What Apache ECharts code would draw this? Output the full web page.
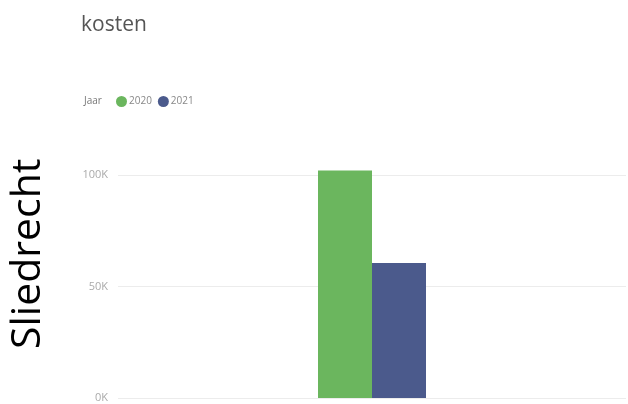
<!DOCTYPE html>
<html>
<head>
<meta charset="utf-8">
<script src="https://cdn.jsdelivr.net/npm/echarts@6/dist/echarts.min.js"></script>
<style>html,body{margin:0;padding:0;background:#fff}#c{width:628px;height:404px}</style>
</head>
<body>
<div id="c"></div>
<script>
const categories = ['Sliedrecht'];
const seriesNames = ['2020', '2021'];
const values2020 = [102000];
const values2021 = [60500];
const yTicks = [0, 50000, 100000];

const chart = echarts.init(document.getElementById('c'), null, {renderer: 'canvas'});
chart.setOption({
  animation: false,
  backgroundColor: '#fff',
  color: ['#6bb65e', '#4b5a8c'],
  title: [
    {text: 'kosten', left: 76, top: 10, textStyle: {fontFamily: 'Open Sans', fontSize: 21, fontWeight: 'normal', color: '#555'}},
    {text: 'Jaar', left: 79, top: 91, textStyle: {fontFamily: 'Open Sans', fontSize: 10, fontWeight: 'normal', color: '#777'}}
  ],
  legend: {
    left: 111, top: 91, itemWidth: 11, itemHeight: 11, itemGap: 6,
    icon: 'circle',
    textStyle: {fontFamily: 'Open Sans', fontSize: 10, color: '#888', padding: [0, 0, 0, -3]},
    data: seriesNames
  },
  graphic: [{
    type: 'text', x: 28, y: 349, rotation: Math.PI / 2,
    style: {text: categories[0], font: '41px "Open Sans"', fill: '#000', textAlign: 'left', textVerticalAlign: 'middle'}
  }],
  grid: {left: 118, right: 2, top: 152.7, bottom: 6, containLabel: false},
  xAxis: {
    type: 'category', data: categories,
    axisLine: {show: false}, axisTick: {show: false}, axisLabel: {show: false}
  },
  yAxis: {
    type: 'value', min: 0, max: 110000, interval: 50000,
    axisLine: {show: false}, axisTick: {show: false},
    axisLabel: {
      showMaxLabel: false, margin: 10,
      fontFamily: 'Open Sans', fontSize: 11, color: '#aaa',
      formatter: v => yTicks.indexOf(v) >= 0 ? (v / 1000) + 'K' : ''
    },
    splitLine: {showMaxLine: false, lineStyle: {color: '#ececec', width: 1}}
  },
  series: [
    {name: seriesNames[0], type: 'bar', data: values2020, barWidth: 54, barGap: '0%'},
    {name: seriesNames[1], type: 'bar', data: values2021, barWidth: 54, barGap: '0%'}
  ]
});
</script>
</body>
</html>
